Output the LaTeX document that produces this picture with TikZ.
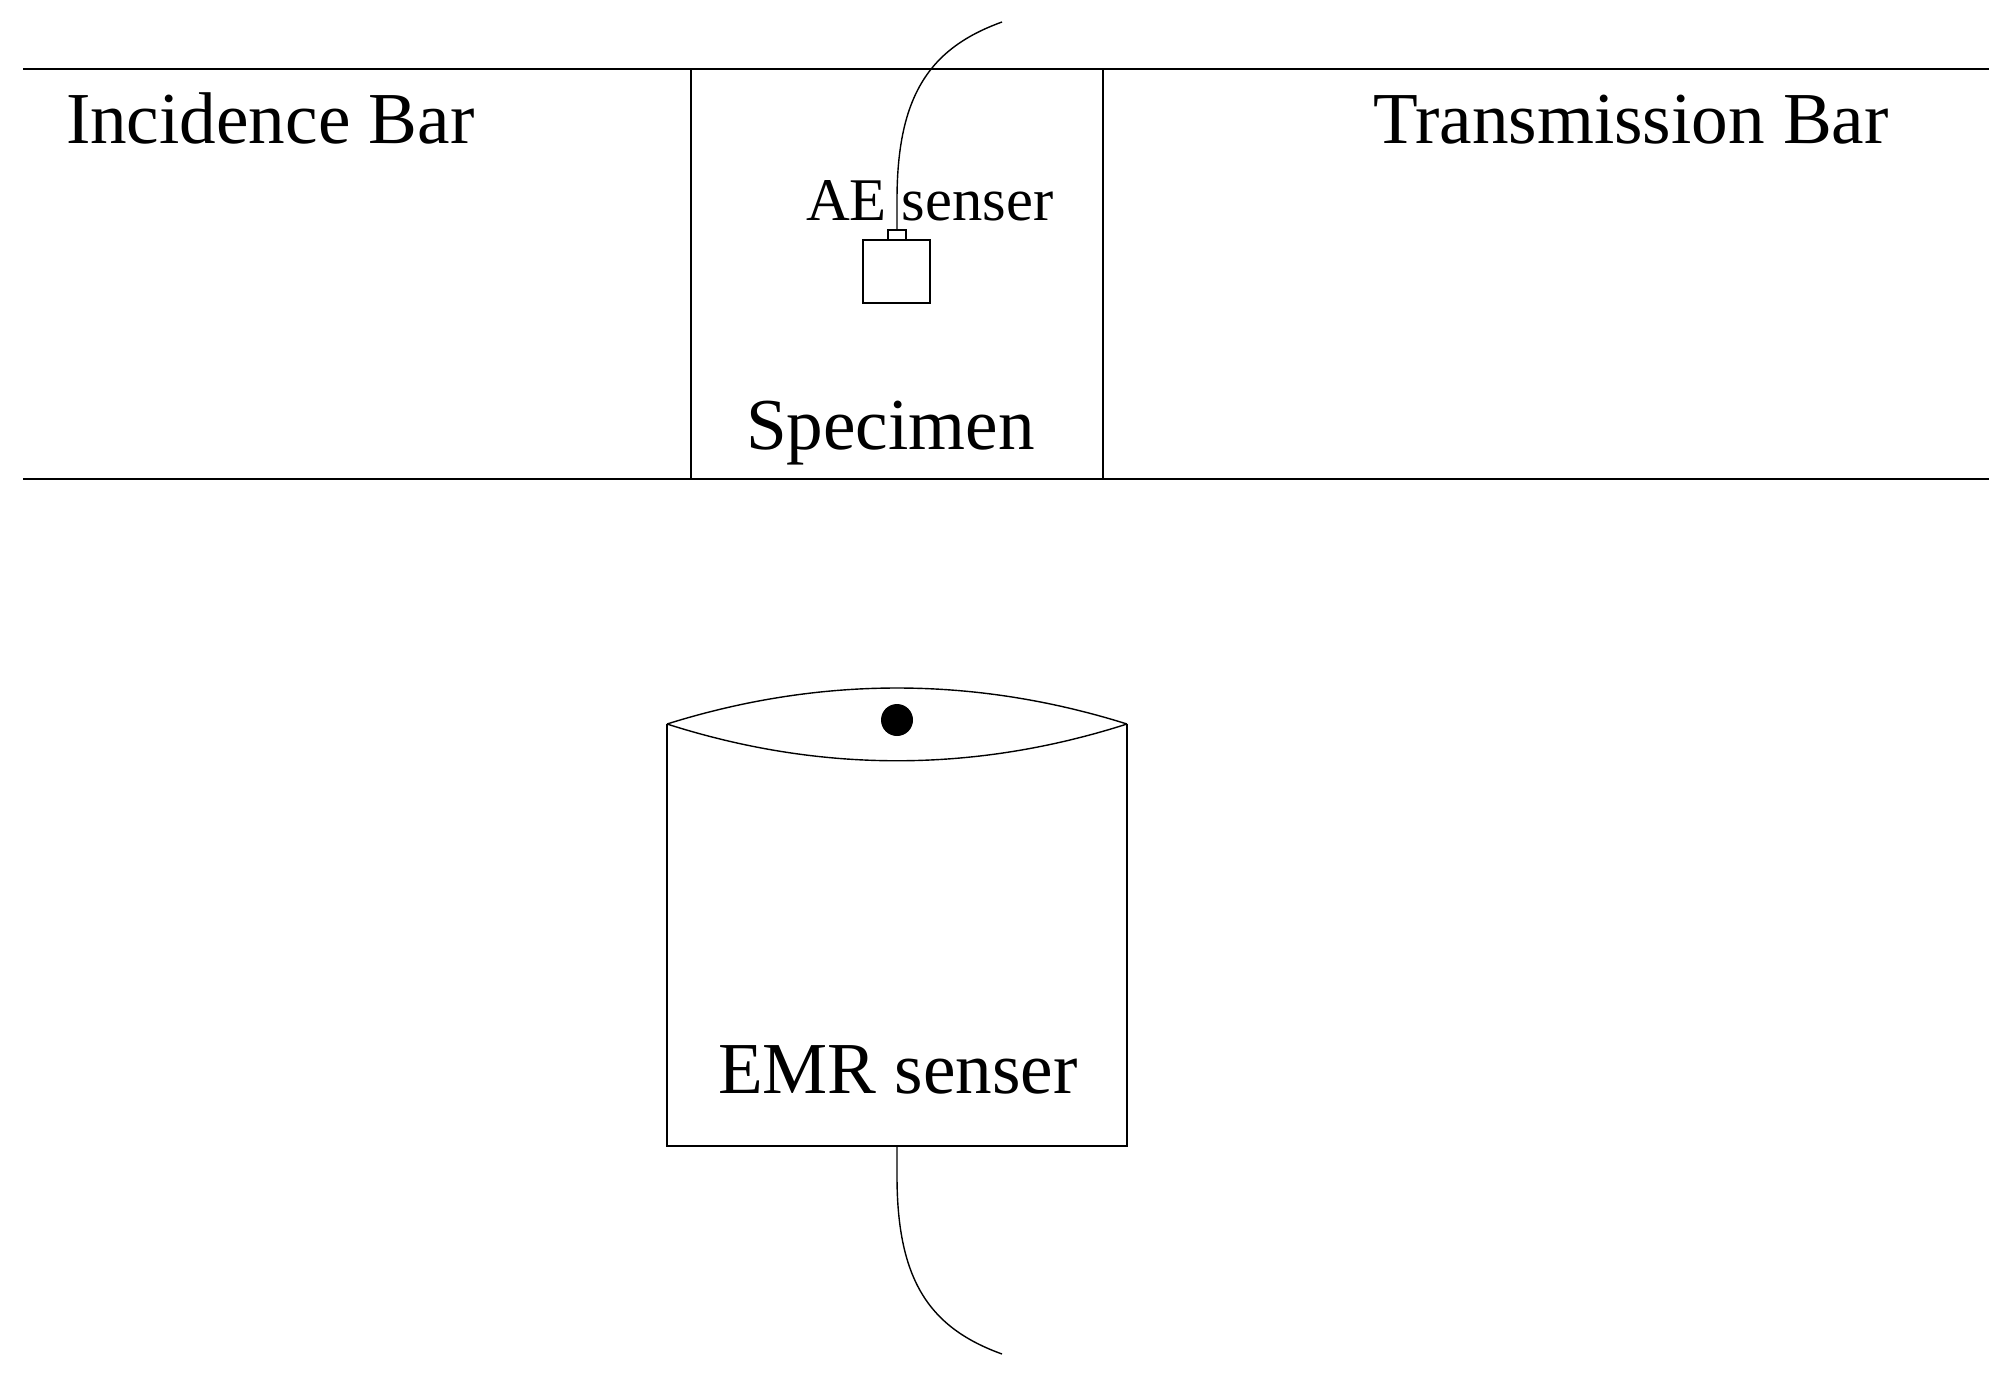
\documentclass[tikz,border=0pt]{standalone}
\usepackage{fontspec}
\setmainfont{Liberation Serif}
\tikzset{
  lineA/.style={line width=0.8pt,draw=black},
  cable/.style={line width=0.7pt,draw=black},
  boxA/.style={lineA,rectangle,inner sep=0pt,outer sep=0pt},
  labelbig/.style={anchor=base west,inner sep=0pt,outer sep=0pt,font=\fontsize{36.6}{40}\selectfont},
  labelsmall/.style={anchor=base west,inner sep=0pt,outer sep=0pt,font=\fontsize{30.3}{34}\selectfont}
}
\begin{document}
\begin{tikzpicture}[x=0.5pt,y=-0.5pt]
\useasboundingbox (0,0) rectangle (2010,1373);
% bars
\coordinate (tl) at (23,69);
\coordinate (tr) at (1989,69);
\coordinate (bl) at (23,479);
\coordinate (br) at (1989,479);
\draw[lineA] (tl) -- (tr);
\draw[lineA] (bl) -- (br);
\node[boxA,minimum width=206pt,minimum height=205pt] (spec) at (897,274) {};
% AE sensor
\node[boxA,minimum width=33.5pt,minimum height=31.5pt] (ae) at (896.5,271.5) {};
\node[boxA,minimum width=9pt,minimum height=5pt] (aetop) at (897,235) {};
\coordinate (aeend) at (1002,22);
\coordinate (aemid) at (897,200);
\draw[cable] (aetop.north) -- (aemid) .. controls (897,95) and (930,48) .. (aeend);
% EMR sensor
\coordinate (el) at (667,724);
\coordinate (er) at (1127,724);
\coordinate (ebl) at (667,1146);
\coordinate (ebr) at (1127,1146);
\coordinate (ebm) at (897,1146);
\draw[lineA] (el) -- (ebl) -- (ebr) -- (er);
\draw[cable] (el) .. controls (820,676) and (974,676) .. (er);
\draw[cable] (el) .. controls (820,773) and (974,773) .. (er);
\node[circle,fill=black,inner sep=0pt,outer sep=0pt,minimum size=16pt] (dot) at (897,720) {};
\coordinate (emend) at (1002,1354);
\coordinate (emmid) at (897,1176);
\draw[cable] (ebm) -- (emmid) .. controls (897,1281) and (930,1328) .. (emend);
% labels
\node[labelbig] (inc) at (66,143.5) {Incidence Bar};
\node[labelbig] (trans) at (1373,143.5) {Transmission Bar};
\node[labelbig] (specl) at (746,449) {Specimen};
\node[labelsmall] (ael) at (806,220) {AE senser};
\node[labelbig] (emrl) at (718,1093) {EMR senser};
\end{tikzpicture}
\end{document}
